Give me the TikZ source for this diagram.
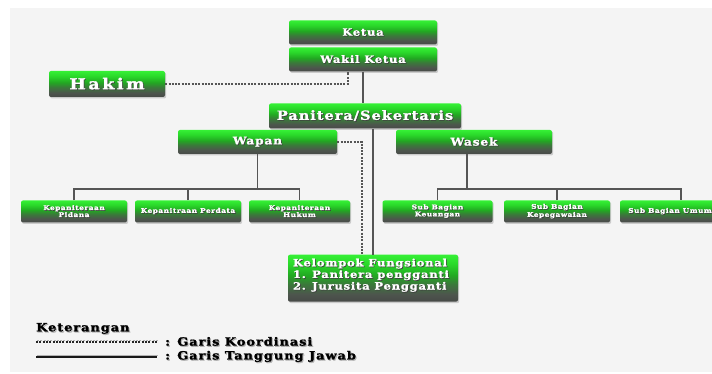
\documentclass[tikz,border=0pt]{standalone}
\usepackage{fontspec}
\newfontfamily\slabfont{DejaVu Serif}[LetterSpace=8, FakeStretch=1.15, BoldFeatures={FakeBold=1.5}]
\newfontfamily\hakimfont{DejaVu Serif}[LetterSpace=18, FakeStretch=1.15, BoldFeatures={FakeBold=2}]
\usetikzlibrary{shadows}
\definecolor{bgc}{HTML}{F4F4F4}
\definecolor{gtop}{HTML}{35F035}
\definecolor{gup}{HTML}{2AD82A}
\definecolor{gmid}{HTML}{22A822}
\definecolor{glow}{HTML}{3A7A3A}
\definecolor{gdk}{HTML}{4D554D}
\definecolor{gbot}{HTML}{474A47}
\definecolor{linec}{HTML}{555555}
\pgfdeclareverticalshading{boxshade}{100bp}{color(0bp)=(gbot); color(25bp)=(gbot); color(33bp)=(gdk); color(44bp)=(glow); color(53bp)=(gmid); color(65bp)=(gup); color(75bp)=(gtop); color(100bp)=(gtop)}
\newcommand\shw[1]{\leavevmode\rlap{\kern0.8pt\raisebox{-0.8pt}{\color{black!75}#1}}#1}
\newcommand\shk[1]{\leavevmode\rlap{\kern1pt\raisebox{-1.2pt}{\color{black!30}#1}}#1}
\begin{document}
\begin{tikzpicture}[x=1pt,y=-1pt,
  orgbox/.style={draw=none, rounded corners=2pt, shading=boxshade,
    text=white, inner sep=1pt, align=center,
    drop shadow={shadow xshift=1.2pt, shadow yshift=-1.5pt, opacity=0.35}},
  bigbox/.style={orgbox, minimum height=24pt},
  smallbox/.style={orgbox, minimum height=22pt, font=\slabfont\bfseries\fontsize{6.4}{7}\selectfont},
  resp/.style={draw=linec, line width=1.8pt},
  coord/.style={draw=linec, line width=1.3pt, dash pattern=on 2pt off 1.3pt},
  legtext/.style={anchor=west, inner sep=0pt, font=\slabfont\bfseries\fontsize{11.3}{13}\selectfont}
]
\useasboundingbox (0,0) rectangle (712,374);
\fill[bgc] (10,8) rectangle (712,372);

% nodes
\node[bigbox, minimum width=148pt, font=\slabfont\bfseries\fontsize{10}{12}\selectfont] (ketua) at (363,32.5) {\shw{Ketua}};
\node[bigbox, minimum width=148pt, font=\slabfont\bfseries\fontsize{10}{12}\selectfont] (wakil) at (363,59.5) {\shw{Wakil Ketua}};
\node[orgbox, minimum width=116pt, minimum height=26pt, font=\hakimfont\bfseries\fontsize{15}{17}\selectfont] (hakim) at (107,84) {\shw{Hakim}};
\node[orgbox, minimum width=192pt, minimum height=25pt, font=\slabfont\bfseries\fontsize{12.6}{14}\selectfont] (panitera) at (365,116) {\shw{Panitera/Sekertaris}};
\node[bigbox, minimum width=159pt, font=\slabfont\bfseries\fontsize{10.6}{12}\selectfont] (wapan) at (257.5,142) {\shw{Wapan}};
\node[bigbox, minimum width=156pt, font=\slabfont\bfseries\fontsize{10.6}{12}\selectfont] (wasek) at (474,142) {\shw{Wasek}};

\node[smallbox, minimum width=106pt] (pidana) at (74,211.5) {\shw{Kepaniteraan}\\\shw{Pidana}};
\node[smallbox, minimum width=106pt] (perdata) at (188,211.5) {\shw{Kepanitraan Perdata}};
\node[smallbox, minimum width=101pt] (hukum) at (299.5,211.5) {\shw{Kepaniteraan}\\\shw{Hukum}};
\node[smallbox, minimum width=110pt] (keuangan) at (437.5,211.5) {\shw{Sub Bagian}\\\shw{Keuangan}};
\node[smallbox, minimum width=106pt] (kepeg) at (557,211.5) {\shw{Sub Bagian}\\\shw{Kepegawaian}};
\node[smallbox, minimum width=100pt] (umum) at (670,211.5) {\shw{Sub Bagian Umum}};

\node[orgbox, anchor=north, inner xsep=5pt, inner ysep=4pt,
  font=\slabfont\bfseries\fontsize{10}{10.5}\selectfont] (kelompok) at (373,254.5)
  {\parbox[c][39pt][t]{160pt}{\raggedright\shw{Kelompok Fungsional}\\\shw{1. Panitera pengganti}\\\shw{2. Jurusita Pengganti}}};

% connectors
\draw[resp] (wakil.south) -- (wakil.south |- panitera.north);
\draw[coord] (hakim.east) -| ([xshift=-15pt]wakil.south);
\draw[resp] (kelompok.north) -- (kelompok.north |- panitera.south);
\draw[coord] (wapan.east) -| ([xshift=-11pt]kelompok.north);

\coordinate (bus) at (0,189);
\draw[resp] (wapan.south) -- (wapan.south |- bus);
\draw[resp] (pidana.north) -- (pidana.north |- bus) -- (hukum.north |- bus) -- (hukum.north);
\draw[resp] (perdata.north) -- (perdata.north |- bus);

\coordinate (wdrop) at ([xshift=-7pt]wasek.south);
\draw[resp] (wdrop) -- (wdrop |- bus);
\draw[resp] (keuangan.north) -- (keuangan.north |- bus) -- ([xshift=11pt]umum.north |- bus) -- ([xshift=11pt]umum.north);
\draw[resp] (kepeg.north) -- (kepeg.north |- bus);

% legend
\node[legtext] (ket) at (36,329) {\shk{Keterangan}};
\coordinate (ld1) at (36,342);
\coordinate (ld2) at (157,342);
\coordinate (ls1) at (36,357);
\coordinate (ls2) at (157,357);
\draw[black!30, line width=1.3pt, dash pattern=on 2pt off 1.3pt] ([shift={(1pt,1.2pt)}]ld1) -- ([shift={(1pt,1.2pt)}]ld2);
\draw[black!85, line width=1.3pt, dash pattern=on 2pt off 1.3pt] (ld1) -- (ld2);
\draw[black!30, line width=1.8pt] ([shift={(1pt,1.5pt)}]ls1) -- ([shift={(1pt,1.5pt)}]ls2);
\draw[black!90, line width=1.5pt] (ls1) -- (ls2);
\node[legtext] (lk) at (165,342) {\shk{: Garis Koordinasi}};
\node[legtext] (lt) at (165,357) {\shk{: Garis Tanggung Jawab}};
\end{tikzpicture}
\end{document}
